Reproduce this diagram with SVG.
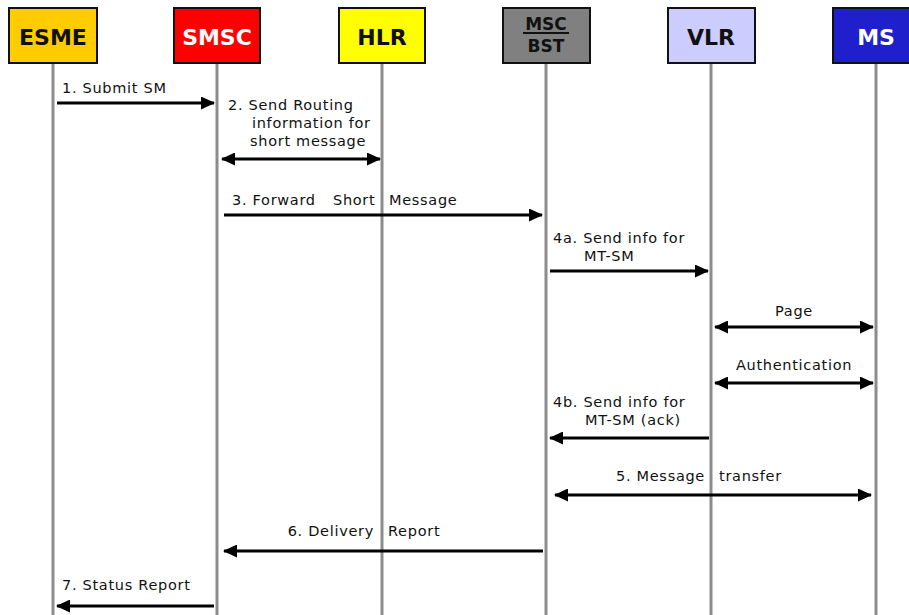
<svg xmlns="http://www.w3.org/2000/svg" width="909" height="615" viewBox="0 0 909 615">
<style>
.box{stroke:#111;stroke-width:2}
.hd{font-family:"DejaVu Sans",Verdana,sans-serif;font-weight:bold;font-size:22px;text-anchor:middle}
.life{stroke:#8c8c8c;stroke-width:3}
.msg{stroke:#000;stroke-width:3;fill:none}
.lbl{font-family:"DejaVu Sans",Verdana,sans-serif;font-size:14.5px;letter-spacing:0.7px;fill:#111}
</style>
<defs>
<marker id="ah" viewBox="0 0 14 13" refX="13" refY="6.5" markerWidth="14" markerHeight="13" markerUnits="userSpaceOnUse" orient="auto-start-reverse">
<path d="M0,0 L14,6.5 L0,13 Z" fill="#000"/>
</marker>
</defs>
<rect width="909" height="615" fill="#fff"/>
<g id="lifelines">
<line class="life" x1="53" y1="63" x2="53" y2="615"/>
<line class="life" x1="217" y1="63" x2="217" y2="615"/>
<line class="life" x1="382" y1="63" x2="382" y2="615"/>
<line class="life" x1="546" y1="63" x2="546" y2="615"/>
<line class="life" x1="711" y1="63" x2="711" y2="615"/>
<line class="life" x1="876" y1="63" x2="876" y2="615"/>
</g>
<g id="esme"><rect class="box" x="9" y="8" width="88" height="55" fill="#ffcc00"/><text class="hd" x="53" y="45" fill="#111">ESME</text></g>
<g id="smsc"><rect class="box" x="174" y="8" width="86" height="55" fill="#ff0000"/><text class="hd" x="217" y="45" fill="#fff">SMSC</text></g>
<g id="hlr"><rect class="box" x="339" y="8" width="86" height="55" fill="#ffff00"/><text class="hd" x="382" y="45" fill="#111">HLR</text></g>
<g id="msc"><rect class="box" x="503" y="8" width="87" height="55" fill="#808080"/><text class="hd" x="546" y="30" fill="#111" style="font-size:17px">MSC</text><line x1="523" y1="33" x2="569" y2="33" stroke="#111" stroke-width="2"/><text class="hd" x="546" y="52" fill="#111" style="font-size:17px">BST</text></g>
<g id="vlr"><rect class="box" x="668" y="8" width="87" height="55" fill="#ccccff"/><text class="hd" x="711" y="45" fill="#111">VLR</text></g>
<g id="ms"><rect class="box" x="833" y="8" width="88" height="55" fill="#1f1fcc"/><text class="hd" x="876" y="45" fill="#fff">MS</text></g>
<g id="connectors">
<line class="msg" x1="57" y1="103" x2="214" y2="103" marker-end="url(#ah)"/>
<line class="msg" x1="222" y1="159" x2="380" y2="159" marker-start="url(#ah)" marker-end="url(#ah)"/>
<line class="msg" x1="224" y1="215" x2="542" y2="215" marker-end="url(#ah)"/>
<line class="msg" x1="550" y1="271" x2="708" y2="271" marker-end="url(#ah)"/>
<line class="msg" x1="715" y1="327" x2="873" y2="327" marker-start="url(#ah)" marker-end="url(#ah)"/>
<line class="msg" x1="715" y1="383" x2="873" y2="383" marker-start="url(#ah)" marker-end="url(#ah)"/>
<line class="msg" x1="709" y1="438" x2="550" y2="438" marker-end="url(#ah)"/>
<line class="msg" x1="555" y1="495" x2="871" y2="495" marker-start="url(#ah)" marker-end="url(#ah)"/>
<line class="msg" x1="543" y1="551" x2="224" y2="551" marker-end="url(#ah)"/>
<line class="msg" x1="214" y1="606" x2="57" y2="606" marker-end="url(#ah)"/>
</g>
<g id="labels">
<text class="lbl" x="62" y="93">1. Submit SM</text>
<text class="lbl" x="228" y="110">2. Send Routing</text>
<text class="lbl" x="252" y="128">information for</text>
<text class="lbl" x="250" y="146">short message</text>
<text class="lbl" x="232" y="205">3. Forward</text>
<text class="lbl" x="333" y="205">Short</text>
<text class="lbl" x="389" y="205">Message</text>
<text class="lbl" x="553" y="243">4a. Send info for</text>
<text class="lbl" x="584" y="261">MT-SM</text>
<text class="lbl" x="794" y="316" text-anchor="middle">Page</text>
<text class="lbl" x="794" y="370" text-anchor="middle">Authentication</text>
<text class="lbl" x="553" y="407">4b. Send info for</text>
<text class="lbl" x="585" y="425">MT-SM (ack)</text>
<text class="lbl" x="705" y="481" text-anchor="end">5. Message</text>
<text class="lbl" x="719" y="481">transfer</text>
<text class="lbl" x="374" y="536" text-anchor="end">6. Delivery</text>
<text class="lbl" x="388" y="536">Report</text>
<text class="lbl" x="62" y="590">7. Status Report</text>
</g>
</svg>
